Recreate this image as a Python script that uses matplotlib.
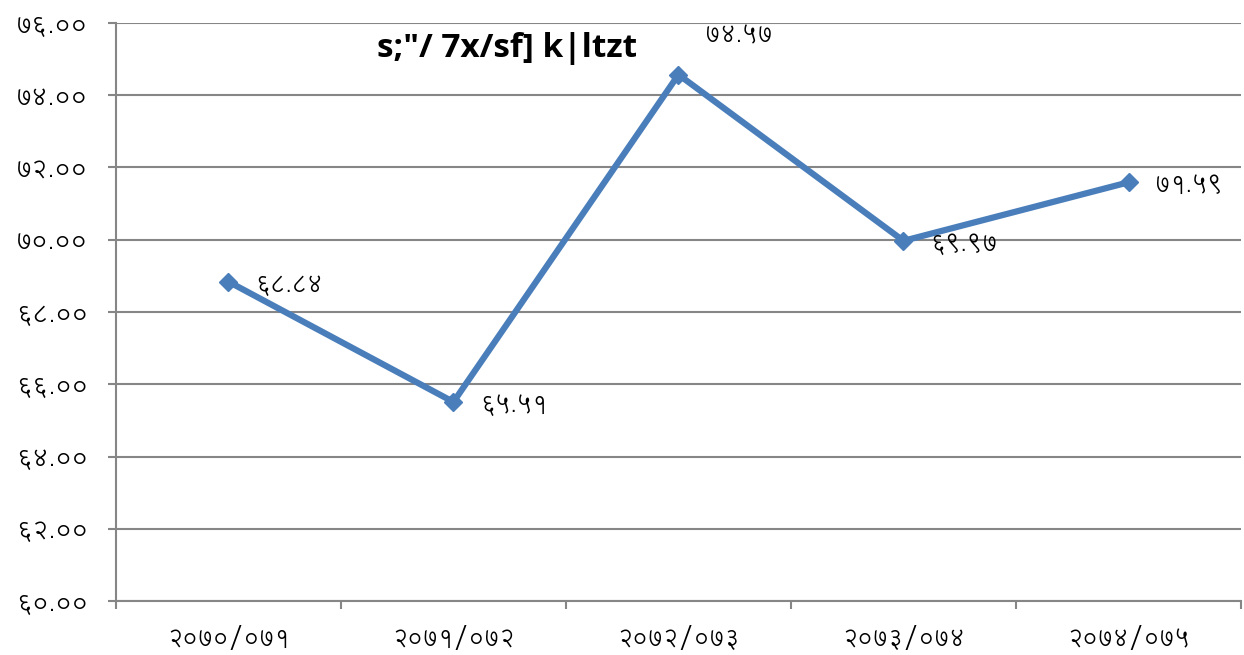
import matplotlib
matplotlib.use("Agg")
import matplotlib.pyplot as plt

# data
years = ["२०७०/०७१", "२०७१/०७२", "२०७२/०७३", "२०७३/०७४", "२०७४/०७५"]
values = [68.84, 65.51, 74.57, 69.97, 71.59]
title = 's;"/ 7x/sf] k|ltzt'

DEV = str.maketrans("0123456789", "०१२३४५६७८९")


def to_dev(num):
    return f"{num:.2f}".translate(DEV)


plt.rcParams["font.family"] = ["Lohit Devanagari", "DejaVu Sans"]

fig = plt.figure(figsize=(12.44, 6.55), dpi=100)
ax = fig.add_axes([0.0932, 0.0824, 0.9044, 0.8825])

x = list(range(len(years)))
ax.plot(x, values, color="#4A7EBB", lw=4.5, marker="D", ms=9, zorder=3)

ax.set_xlim(-0.5, 4.5)
ax.set_ylim(60, 76)
yt = list(range(60, 77, 2))
ax.set_yticks(yt)
ax.set_yticklabels([to_dev(v) for v in yt], fontsize=18)
ax.set_xticks(x)
ax.set_xticklabels(years, fontsize=17)
ax.set_xticks([i - 0.5 for i in range(len(years) + 1)], minor=True)
ax.tick_params(axis="x", which="major", length=0, pad=18)
ax.tick_params(axis="x", which="minor", length=6, color="#868686", width=1.5)
ax.tick_params(axis="y", length=6, color="#868686", width=1.5, pad=14)

ax.grid(axis="y", color="#868686", lw=1.5)
ax.set_axisbelow(True)
for s in ["top", "right"]:
    ax.spines[s].set_visible(False)
for s in ["left", "bottom"]:
    ax.spines[s].set_color("#868686")
    ax.spines[s].set_linewidth(1.5)

for i, v in enumerate(values):
    if i == 2:
        off = (19, 28)
    else:
        off = (19, -2)
    ax.annotate(to_dev(v), (i, v), xytext=off, textcoords="offset points",
                fontsize=17, va="center", ha="left")

fig.text(0.408, 0.926, title, fontsize=24, fontweight="bold", ha="center", va="center",
         family=["Open Sans", "DejaVu Sans"])

fig.savefig("out.png", dpi=100)
